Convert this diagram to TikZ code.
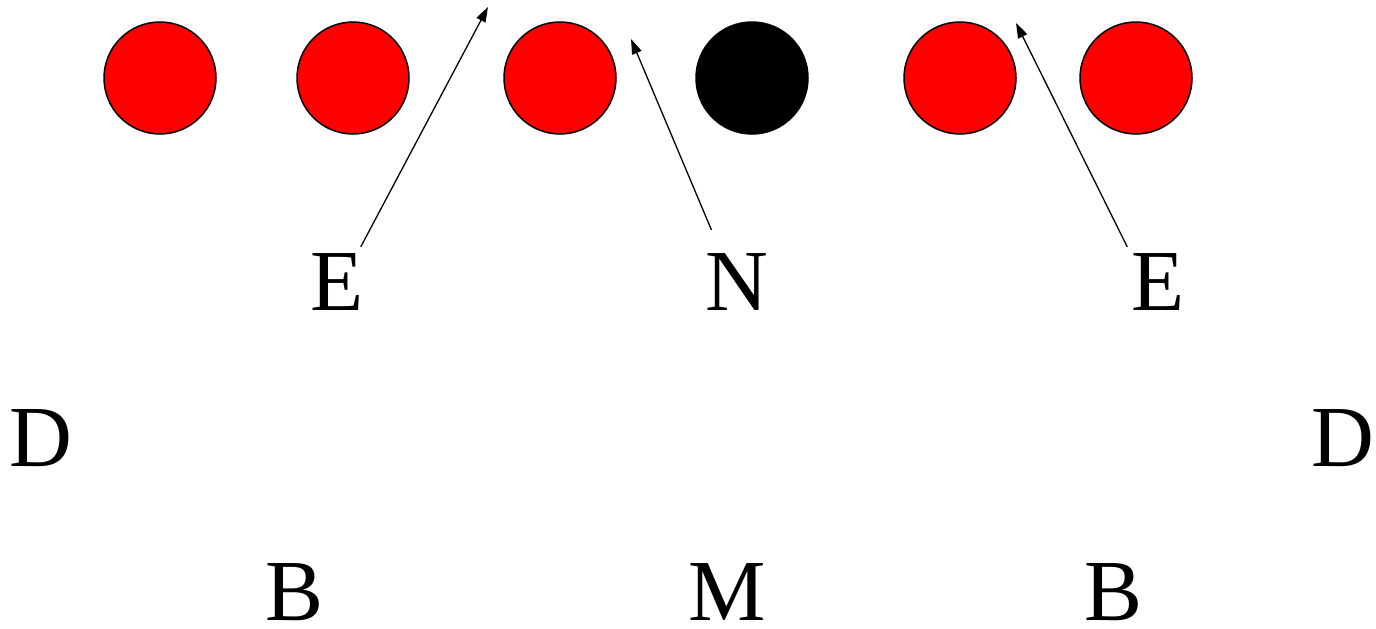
\documentclass[tikz,border=0pt]{standalone}
\usepackage{fontspec}
\setmainfont{Liberation Serif}
\usepackage{tikz}
\usetikzlibrary{arrows.meta,positioning}

\begin{document}
\begin{tikzpicture}[
    x=1pt, y=-1pt,
    dot/.style ={
        circle,
        draw=black,
        line width=1.5pt,
        minimum size=112pt,
        inner sep=0pt
    },
    letter/.style ={
        font=\fontsize{87}{100}\selectfont,
        anchor=base,
        inner sep=0pt,
        text height=57pt,
        text depth=0pt
    },
    pointer/.style ={
        -{Triangle[length=15pt,width=10pt]},
        line width=1.3pt
    }
    ]
    \useasboundingbox (0,0) rectangle (1376,629);

    \foreach \x/ \pos/ \col in {{c1/(160,78)/red}, {c2/(353,78)/red}, {c3/(560,78)/red},
                                {c4/(752,78)/black}, {c5/(960,78)/red}, {c6/(1136,78)/red}}
        \node[dot, fill=\col] (\x) at \pos {};

    \foreach \x/ \pos/ \txt in {{lE1/(337,310)/E}, {lN/(737,310)/N}, {lE2/(1158,310)/E},
                                {lD1/(41,466)/D}, {lD2/(1343,466)/D},
                                {lB1/(295,620)/B}, {lM/(727,620)/M}, {lB2/(1114,620)/B}}
        \node[letter] (\x) at \pos {\txt};

    \coordinate (tipE1) at (488,7);
    \coordinate (tipN) at (631,39);
    \coordinate (tipE2) at (1016,23);

    \draw[pointer] ([shift={(-3pt,6pt)}]lE1.north east) -- (tipE1);
    \draw[pointer] ([shift={(6pt,23pt)}]lN.north west) -- (tipN);
    \draw[pointer] ([shift={(-4pt,6pt)}]lE2.north west) -- (tipE2);
\end{tikzpicture}
\end{document}
